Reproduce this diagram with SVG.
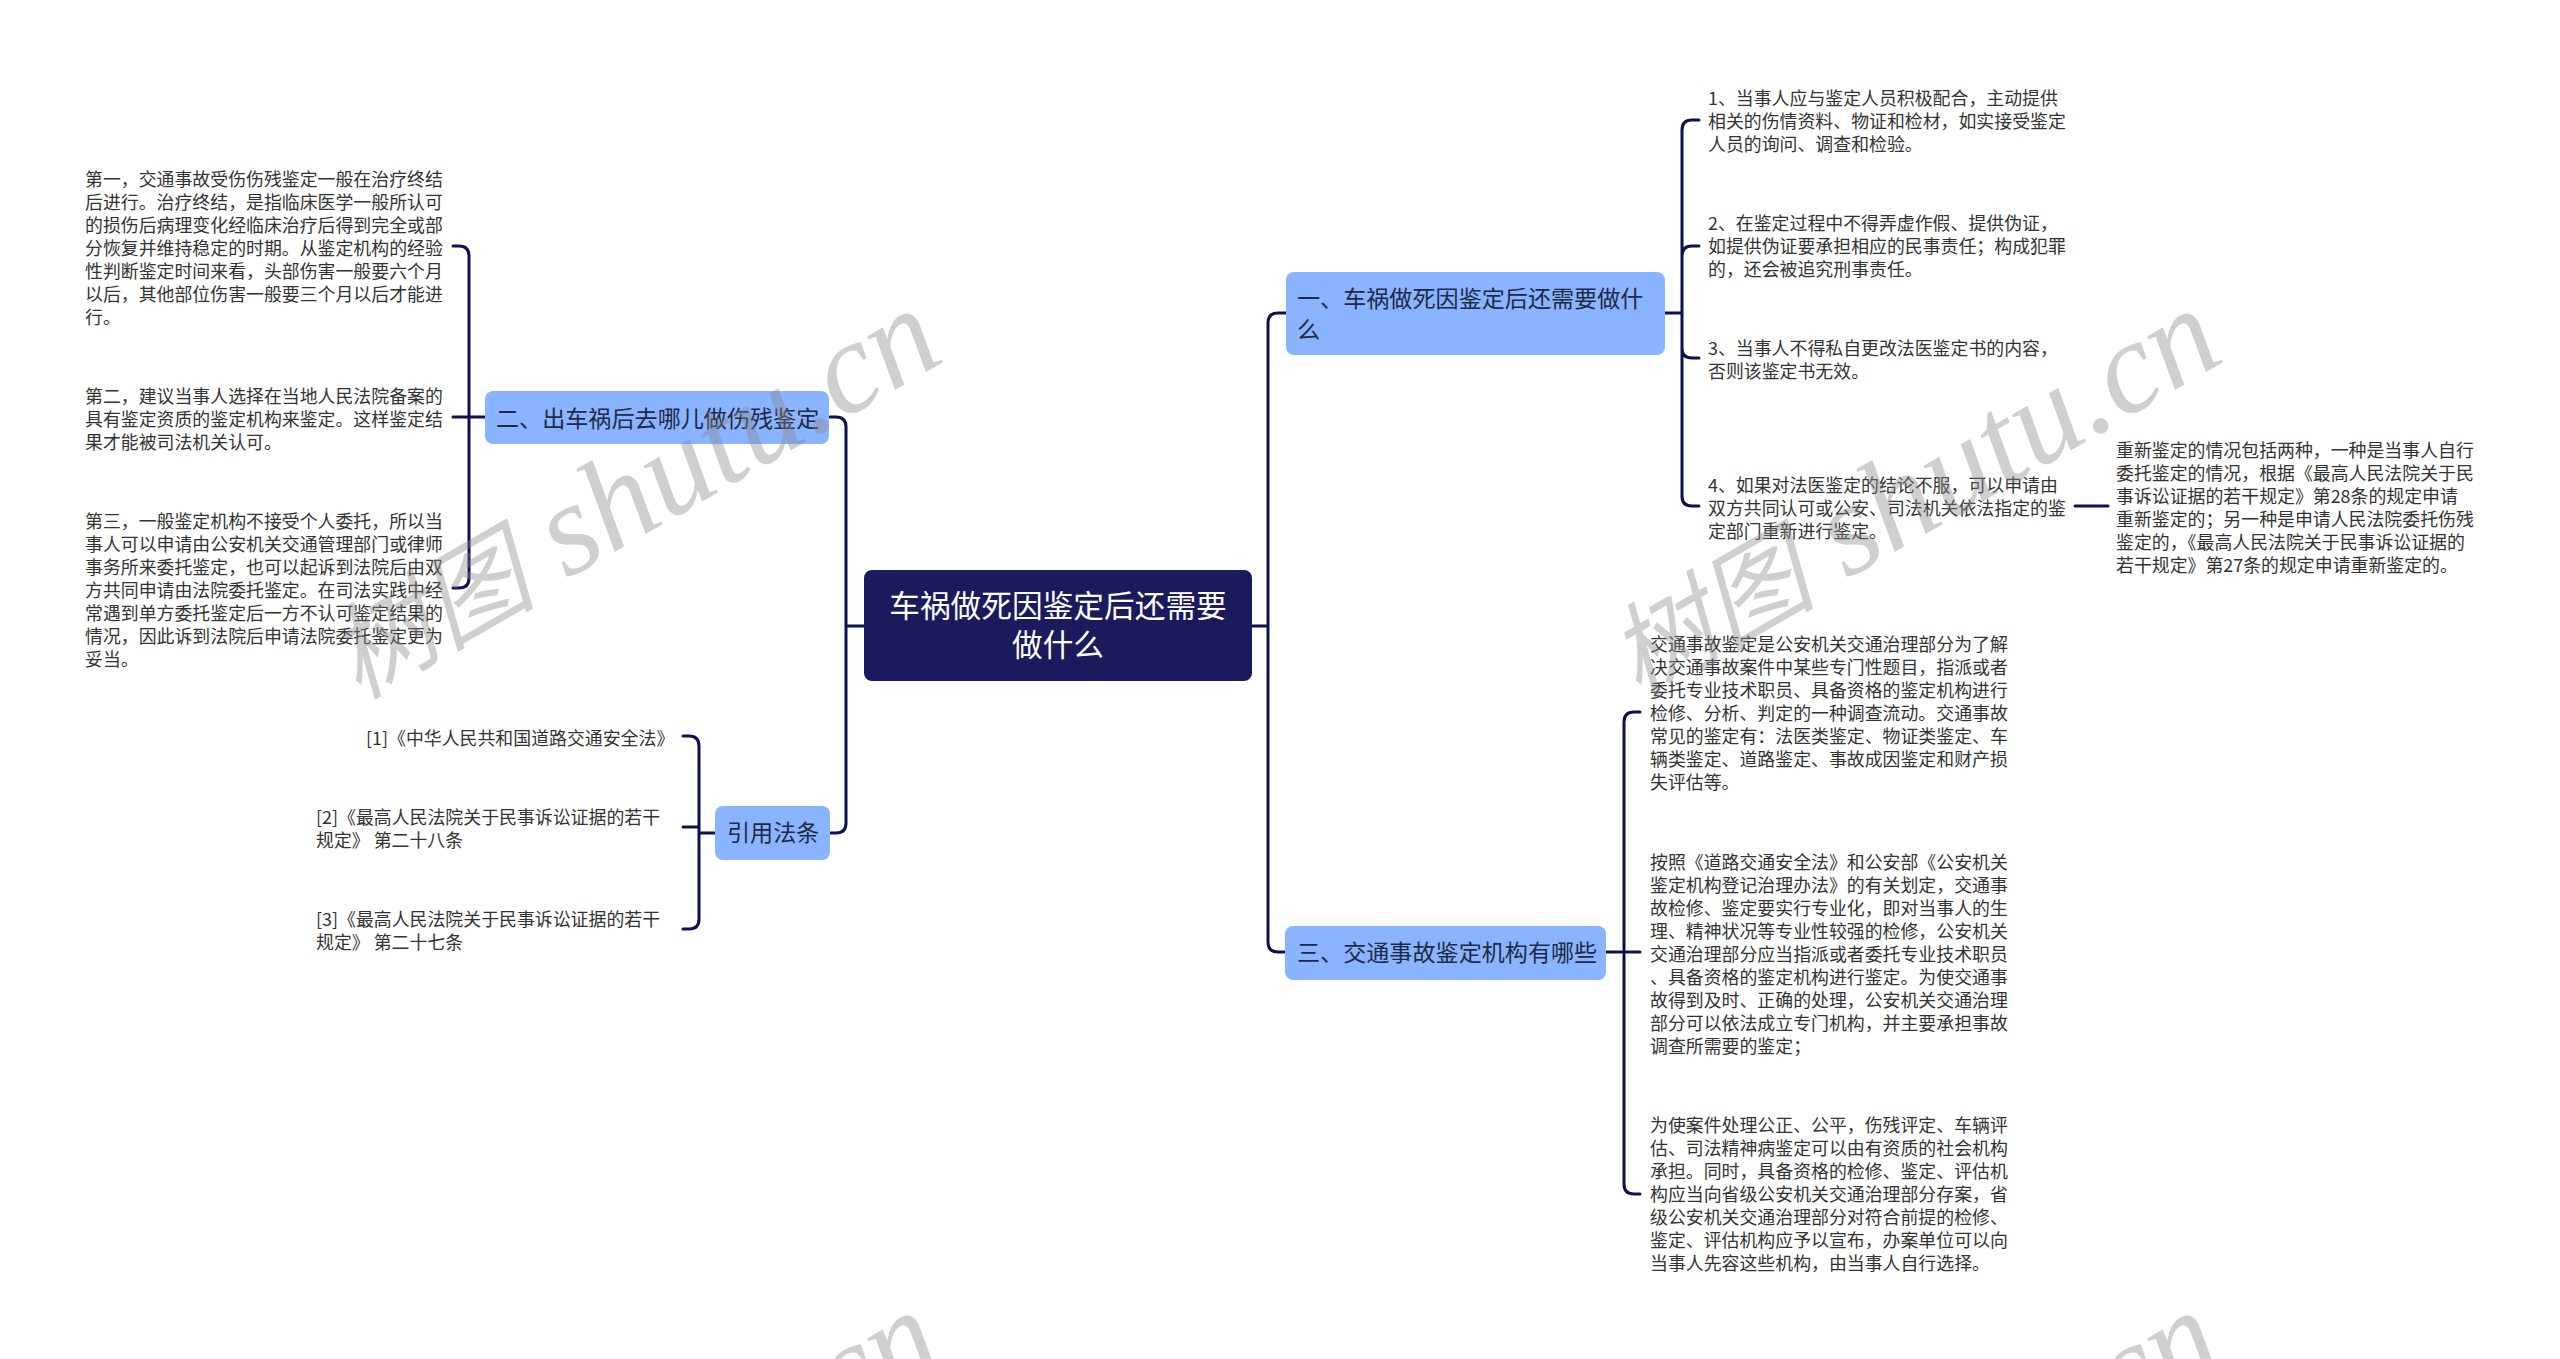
<svg xmlns="http://www.w3.org/2000/svg" width="2560" height="1359" viewBox="0 0 2560 1359">
<style>
text{font-family:"Noto Sans CJK SC","Liberation Sans",sans-serif}
.l{font-size:17.9px;fill:#333}
.b{font-size:23.1px;fill:#1f2a44}
.r{font-size:30.7px;fill:#fff;text-anchor:middle}
.n{fill:#8ab4ff}
.c{fill:none;stroke:#0f1050;stroke-width:3;stroke-linecap:round;stroke-linejoin:round}
.w{font-family:"Liberation Serif","Noto Sans CJK SC",serif;font-style:italic;font-size:131px;fill:#888;opacity:.4}
.wc{font-size:104px}
</style>
<rect width="2560" height="1359" fill="#fff"/>
<g id="connectors">
<path class="c" d="M864 626H846M830 417H836Q846 417 846 427V823Q846 833 836 833H830M1252 626H1268M1286 313H1278Q1268 313 1268 323V942Q1268 952 1278 952H1285"/>
<path class="c" d="M1665 313H1682M1699 120H1692Q1682 120 1682 130V496Q1682 506 1692 506H1699M1682 256Q1682 246 1692 246H1699M1682 348Q1682 358 1692 358H1699M2075 506H2108"/>
<path class="c" d="M1606 952H1640M1640 712H1634Q1624 712 1624 722V1184Q1624 1194 1634 1194H1640"/>
<path class="c" d="M485 417H453M453 246H459Q469 246 469 256V578Q469 588 459 588H453"/>
<path class="c" d="M715 833H699M683 736H689Q699 736 699 746V919Q699 929 689 929H683M683 827H699"/>
</g>
<g id="root"><rect x="864" y="570" width="388" height="111" rx="8" fill="#1a1a5c"/><text class="r" x="1058" y="617">车祸做死因鉴定后还需要</text><text class="r" x="1058" y="656">做什么</text></g>
<g id="n1"><rect class="n" x="1286" y="272" width="379" height="83" rx="8"/><text class="b" x="1297" y="307">一、车祸做死因鉴定后还需要做什</text><text class="b" x="1297" y="338">么</text></g>
<g id="n2"><rect class="n" x="485" y="391" width="344" height="53" rx="8"/><text class="b" x="496" y="427">二、出车祸后去哪儿做伤残鉴定</text></g>
<g id="n3"><rect class="n" x="1285" y="926" width="321" height="54" rx="8"/><text class="b" x="1297" y="961">三、交通事故鉴定机构有哪些</text></g>
<g id="n4"><rect class="n" x="715" y="806" width="115" height="54" rx="8"/><text class="b" x="727" y="841">引用法条</text></g>
<g id="l2a"><text class="l" x="85" y="186">第一，交通事故受伤伤残鉴定一般在治疗终结</text><text class="l" x="85" y="209">后进行。治疗终结，是指临床医学一般所认可</text><text class="l" x="85" y="232">的损伤后病理变化经临床治疗后得到完全或部</text><text class="l" x="85" y="255">分恢复并维持稳定的时期。从鉴定机构的经验</text><text class="l" x="85" y="278">性判断鉴定时间来看，头部伤害一般要六个月</text><text class="l" x="85" y="301">以后，其他部位伤害一般要三个月以后才能进</text><text class="l" x="85" y="324">行。</text></g>
<g id="l2b"><text class="l" x="85" y="403">第二，建议当事人选择在当地人民法院备案的</text><text class="l" x="85" y="426">具有鉴定资质的鉴定机构来鉴定。这样鉴定结</text><text class="l" x="85" y="449">果才能被司法机关认可。</text></g>
<g id="l2c"><text class="l" x="85" y="528">第三，一般鉴定机构不接受个人委托，所以当</text><text class="l" x="85" y="551">事人可以申请由公安机关交通管理部门或律师</text><text class="l" x="85" y="574">事务所来委托鉴定，也可以起诉到法院后由双</text><text class="l" x="85" y="597">方共同申请由法院委托鉴定。在司法实践中经</text><text class="l" x="85" y="620">常遇到单方委托鉴定后一方不认可鉴定结果的</text><text class="l" x="85" y="643">情况，因此诉到法院后申请法院委托鉴定更为</text><text class="l" x="85" y="666">妥当。</text></g>
<g id="c1"><text class="l" x="366" y="745">[1]《中华人民共和国道路交通安全法》</text></g>
<g id="c2"><text class="l" x="316" y="824">[2]《最高人民法院关于民事诉讼证据的若干</text><text class="l" x="316" y="847">规定》 第二十八条</text></g>
<g id="c3"><text class="l" x="316" y="926">[3]《最高人民法院关于民事诉讼证据的若干</text><text class="l" x="316" y="949">规定》 第二十七条</text></g>
<g id="r1"><text class="l" x="1708" y="105">1、当事人应与鉴定人员积极配合，主动提供</text><text class="l" x="1708" y="128">相关的伤情资料、物证和检材，如实接受鉴定</text><text class="l" x="1708" y="151">人员的询问、调查和检验。</text></g>
<g id="r2"><text class="l" x="1708" y="230">2、在鉴定过程中不得弄虚作假、提供伪证，</text><text class="l" x="1708" y="253">如提供伪证要承担相应的民事责任；构成犯罪</text><text class="l" x="1708" y="276">的，还会被追究刑事责任。</text></g>
<g id="r3"><text class="l" x="1708" y="355">3、当事人不得私自更改法医鉴定书的内容，</text><text class="l" x="1708" y="378">否则该鉴定书无效。</text></g>
<g id="r4"><text class="l" x="1708" y="492">4、如果对法医鉴定的结论不服，可以申请由</text><text class="l" x="1708" y="515">双方共同认可或公安、司法机关依法指定的鉴</text><text class="l" x="1708" y="538">定部门重新进行鉴定。</text></g>
<g id="r5"><text class="l" x="2116" y="457">重新鉴定的情况包括两种，一种是当事人自行</text><text class="l" x="2116" y="480">委托鉴定的情况，根据《最高人民法院关于民</text><text class="l" x="2116" y="503">事诉讼证据的若干规定》第28条的规定申请</text><text class="l" x="2116" y="526">重新鉴定的；另一种是申请人民法院委托伤残</text><text class="l" x="2116" y="549">鉴定的，《最高人民法院关于民事诉讼证据的</text><text class="l" x="2116" y="572">若干规定》第27条的规定申请重新鉴定的。</text></g>
<g id="t1"><text class="l" x="1650" y="651">交通事故鉴定是公安机关交通治理部分为了解</text><text class="l" x="1650" y="674">决交通事故案件中某些专门性题目，指派或者</text><text class="l" x="1650" y="697">委托专业技术职员、具备资格的鉴定机构进行</text><text class="l" x="1650" y="720">检修、分析、判定的一种调查流动。交通事故</text><text class="l" x="1650" y="743">常见的鉴定有：法医类鉴定、物证类鉴定、车</text><text class="l" x="1650" y="766">辆类鉴定、道路鉴定、事故成因鉴定和财产损</text><text class="l" x="1650" y="789">失评估等。</text></g>
<g id="t2"><text class="l" x="1650" y="869">按照《道路交通安全法》和公安部《公安机关</text><text class="l" x="1650" y="892">鉴定机构登记治理办法》的有关划定，交通事</text><text class="l" x="1650" y="915">故检修、鉴定要实行专业化，即对当事人的生</text><text class="l" x="1650" y="938">理、精神状况等专业性较强的检修，公安机关</text><text class="l" x="1650" y="961">交通治理部分应当指派或者委托专业技术职员</text><text class="l" x="1650" y="984">、具备资格的鉴定机构进行鉴定。为使交通事</text><text class="l" x="1650" y="1007">故得到及时、正确的处理，公安机关交通治理</text><text class="l" x="1650" y="1030">部分可以依法成立专门机构，并主要承担事故</text><text class="l" x="1650" y="1053">调查所需要的鉴定；</text></g>
<g id="t3"><text class="l" x="1650" y="1132">为使案件处理公正、公平，伤残评定、车辆评</text><text class="l" x="1650" y="1155">估、司法精神病鉴定可以由有资质的社会机构</text><text class="l" x="1650" y="1178">承担。同时，具备资格的检修、鉴定、评估机</text><text class="l" x="1650" y="1201">构应当向省级公安机关交通治理部分存案，省</text><text class="l" x="1650" y="1224">级公安机关交通治理部分对符合前提的检修、</text><text class="l" x="1650" y="1247">鉴定、评估机构应予以宣布，办案单位可以向</text><text class="l" x="1650" y="1270">当事人先容这些机构，由当事人自行选择。</text></g>
<g id="watermark">
<text class="w" transform="translate(358 700) rotate(-30)"><tspan class="wc">树图</tspan> shutu.cn</text>
<text class="w" transform="translate(1638 700) rotate(-30)"><tspan class="wc">树图</tspan> shutu.cn</text>
<text class="w" transform="translate(358 1702) rotate(-30)"><tspan class="wc">树图</tspan> shutu.cn</text>
<text class="w" transform="translate(1638 1702) rotate(-30)"><tspan class="wc">树图</tspan> shutu.cn</text>
</g>
</svg>
